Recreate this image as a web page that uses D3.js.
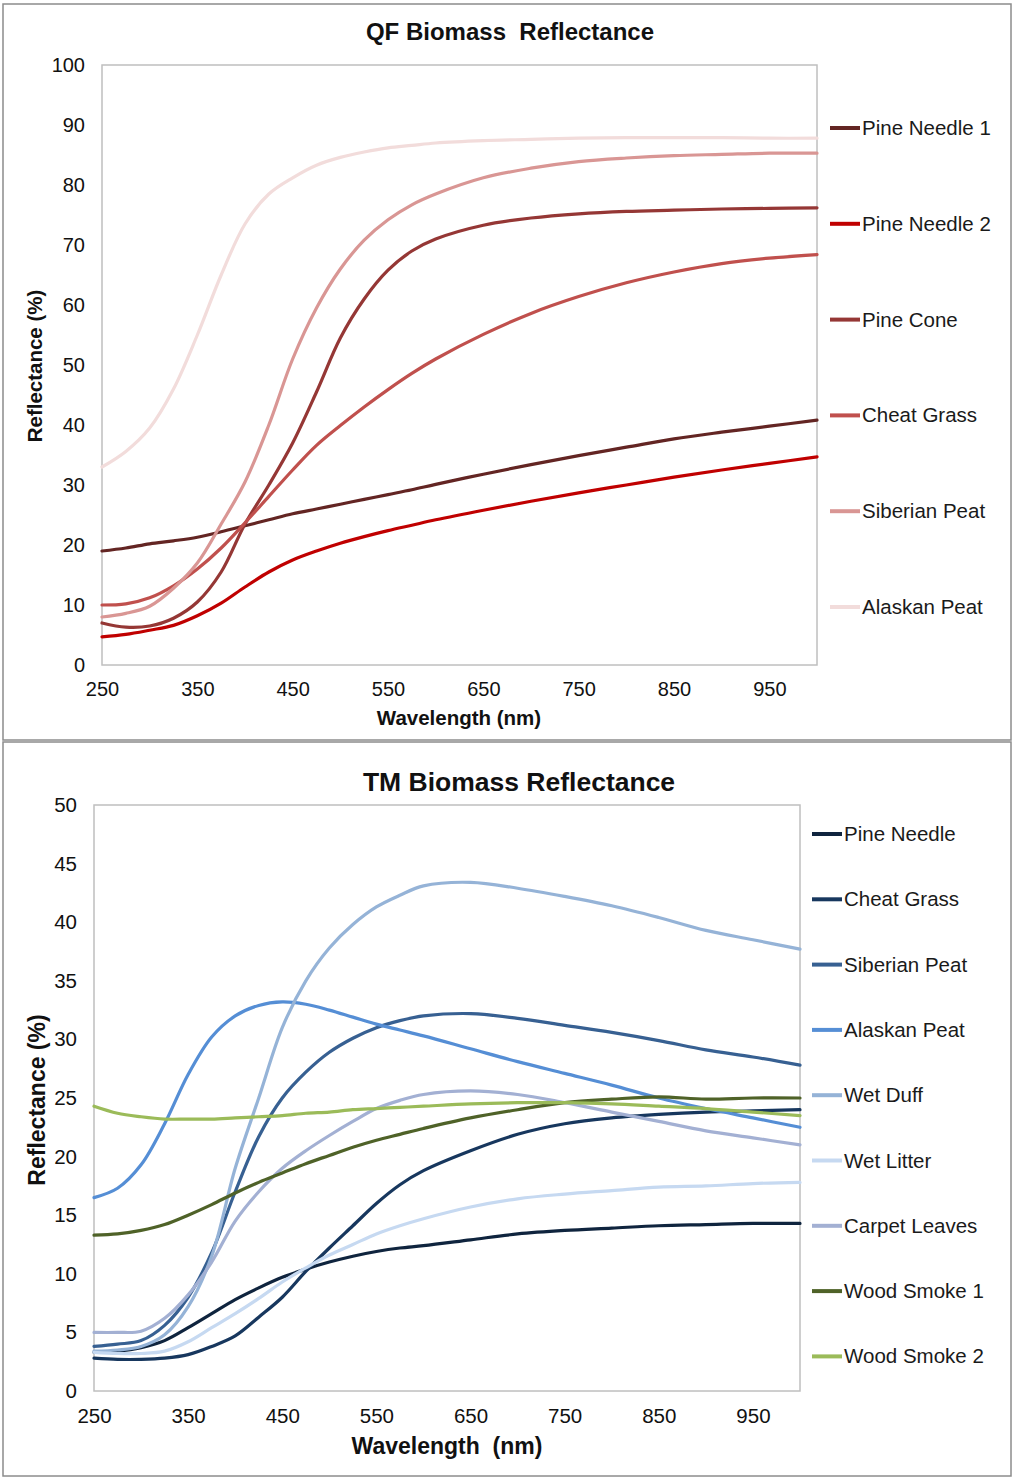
<!DOCTYPE html>
<html>
<head>
<meta charset="utf-8">
<script src="https://cdn.jsdelivr.net/npm/d3@7"></script>
<style>
  html, body { margin: 0; padding: 0; background: #fff; }
  svg { display: block; font-family: "Liberation Sans", Arial, sans-serif; }
  svg text { white-space: pre; }
  .tick text { fill: #111; }
</style>
</head>
<body>
<svg id="chart" width="1013" height="1479"></svg>
<script>
// Wavelength samples shared by every spectrum (nm)
const wavelengths = [250, 275, 300, 325, 350, 375, 400, 425, 450, 475, 500, 525, 550, 575, 600, 650, 700, 750, 800, 850, 900, 950, 1000];

// QF biomass reflectance (%)
const qfPineNeedle1   = [19, 19.5, 20.2, 20.7, 21.3, 22.2, 23.2, 24.2, 25.2, 26, 26.8, 27.6, 28.4, 29.2, 30.1, 31.8, 33.4, 34.9, 36.3, 37.7, 38.8, 39.8, 40.8];
const qfPineNeedle2   = [4.7, 5.1, 5.8, 6.6, 8.2, 10.3, 13, 15.5, 17.5, 19, 20.3, 21.4, 22.4, 23.3, 24.2, 25.8, 27.3, 28.7, 30, 31.3, 32.5, 33.6, 34.7];
const qfPineCone      = [7, 6.3, 6.5, 7.8, 10.5, 15.5, 23.5, 30, 37, 45.5, 54.5, 61, 65.8, 69, 71, 73.3, 74.5, 75.2, 75.6, 75.8, 76, 76.1, 76.2];
const qfCheatGrass    = [10, 10.2, 11.2, 13.2, 16, 19.5, 23.7, 28.1, 32.5, 36.6, 39.9, 43, 45.9, 48.6, 51, 55.1, 58.6, 61.4, 63.7, 65.5, 66.9, 67.8, 68.4];
const qfSiberianPeat  = [8, 8.6, 9.8, 12.8, 17, 23.5, 30.5, 40, 51, 59.5, 66, 70.8, 74.2, 76.7, 78.5, 81.2, 82.8, 83.9, 84.5, 84.9, 85.1, 85.3, 85.3];
const qfAlaskanPeat   = [33, 35.6, 39.5, 46, 55, 65, 73.5, 78.5, 81.2, 83.3, 84.6, 85.5, 86.2, 86.6, 87, 87.4, 87.6, 87.8, 87.9, 87.9, 87.9, 87.8, 87.8];

// TM biomass reflectance (%)
const tmPineNeedle    = [3.3, 3.4, 3.7, 4.3, 5.4, 6.6, 7.8, 8.8, 9.7, 10.4, 11, 11.5, 11.9, 12.2, 12.4, 12.9, 13.4, 13.7, 13.9, 14.1, 14.2, 14.3, 14.3];
const tmCheatGrass    = [2.8, 2.7, 2.7, 2.8, 3.1, 3.8, 4.7, 6.3, 8, 10.2, 12.2, 14.1, 16, 17.6, 18.8, 20.5, 21.9, 22.8, 23.3, 23.6, 23.8, 23.9, 24];
const tmSiberianPeat  = [3.8, 4, 4.3, 5.6, 8, 11.8, 17, 21.7, 25, 27.2, 28.9, 30.1, 31, 31.6, 32, 32.2, 31.8, 31.2, 30.6, 29.9, 29.1, 28.5, 27.8];
const tmAlaskanPeat   = [16.5, 17.3, 19.3, 22.8, 27, 30.2, 32, 32.9, 33.2, 33, 32.5, 31.9, 31.3, 30.8, 30.3, 29.2, 28.1, 27.1, 26.1, 25, 24.1, 23.3, 22.5];
const tmWetDuff       = [3.4, 3.5, 3.8, 4.8, 7.2, 11.5, 19, 25, 31, 35, 37.8, 39.8, 41.3, 42.3, 43.1, 43.4, 42.9, 42.2, 41.4, 40.4, 39.3, 38.5, 37.7];
const tmWetLitter     = [3.3, 3.2, 3.2, 3.4, 4.2, 5.4, 6.6, 7.9, 9.3, 10.5, 11.6, 12.5, 13.4, 14.1, 14.7, 15.7, 16.4, 16.8, 17.1, 17.4, 17.5, 17.7, 17.8];
const tmCarpetLeaves  = [5, 5, 5.1, 6.2, 8.2, 11, 14.5, 17, 19, 20.5, 21.8, 23, 24.1, 24.8, 25.3, 25.6, 25.3, 24.6, 23.8, 23, 22.2, 21.6, 21];
const tmWoodSmoke1    = [13.3, 13.4, 13.7, 14.2, 15, 15.9, 16.9, 17.8, 18.6, 19.4, 20.1, 20.8, 21.4, 21.9, 22.4, 23.3, 24, 24.6, 24.9, 25.1, 24.9, 25, 25];
const tmWoodSmoke2    = [24.3, 23.7, 23.4, 23.2, 23.2, 23.2, 23.3, 23.4, 23.5, 23.7, 23.8, 24, 24.1, 24.2, 24.3, 24.5, 24.6, 24.6, 24.5, 24.3, 24.1, 23.8, 23.5];

// Axis tick values
const xTicks = [250, 350, 450, 550, 650, 750, 850, 950];
const qfYTicks = [0, 10, 20, 30, 40, 50, 60, 70, 80, 90, 100];
const tmYTicks = [0, 5, 10, 15, 20, 25, 30, 35, 40, 45, 50];

const qfSeries = [
  { name: "Pine Needle 1", values: qfPineNeedle1, color: "#632523" },
  { name: "Pine Needle 2", values: qfPineNeedle2, color: "#c00000" },
  { name: "Pine Cone",     values: qfPineCone,    color: "#953735" },
  { name: "Cheat Grass",   values: qfCheatGrass,  color: "#c0504d" },
  { name: "Siberian Peat", values: qfSiberianPeat, color: "#d99694" },
  { name: "Alaskan Peat",  values: qfAlaskanPeat, color: "#f2dcdb" }
];

const tmSeries = [
  { name: "Pine Needle",   values: tmPineNeedle,   color: "#0f243e" },
  { name: "Cheat Grass",   values: tmCheatGrass,   color: "#17375e" },
  { name: "Siberian Peat", values: tmSiberianPeat, color: "#376092" },
  { name: "Alaskan Peat",  values: tmAlaskanPeat,  color: "#558ed5" },
  { name: "Wet Duff",      values: tmWetDuff,      color: "#95b3d7" },
  { name: "Wet Litter",    values: tmWetLitter,    color: "#c6d9f1" },
  { name: "Carpet Leaves", values: tmCarpetLeaves, color: "#a3b0d3" },
  { name: "Wood Smoke 1",  values: tmWoodSmoke1,   color: "#4f6228" },
  { name: "Wood Smoke 2",  values: tmWoodSmoke2,   color: "#9bbb59" }
];

const svg = d3.select("#chart");

// Panel frames
svg.append("rect").attr("x", 3).attr("y", 4).attr("width", 1008).attr("height", 736)
  .attr("fill", "none").attr("stroke", "#8c8c8c").attr("stroke-width", 1.5);
svg.append("rect").attr("x", 3).attr("y", 742).attr("width", 1008).attr("height", 734)
  .attr("fill", "none").attr("stroke", "#8c8c8c").attr("stroke-width", 1.5);

function drawPanel(cfg) {
  const g = svg.append("g");
  const x = d3.scaleLinear().domain([250, 1000]).range([cfg.left, cfg.right]);
  const y = d3.scaleLinear().domain([0, cfg.yMax]).range([cfg.bottom, cfg.top]);

  // plot area border
  g.append("rect")
    .attr("x", cfg.left).attr("y", cfg.top)
    .attr("width", cfg.right - cfg.left).attr("height", cfg.bottom - cfg.top)
    .attr("fill", "none").attr("stroke", "#bfbfbf").attr("stroke-width", 1.5);

  // axes (labels only)
  const xAxis = g.append("g").attr("transform", `translate(0,${cfg.bottom})`)
    .call(d3.axisBottom(x).tickValues(xTicks).tickSize(0).tickPadding(cfg.xPad).tickFormat(d3.format("d")));
  xAxis.select(".domain").remove();
  xAxis.selectAll("text").attr("font-size", cfg.tickSize).attr("font-family", "Liberation Sans, Arial, sans-serif");

  const yAxis = g.append("g").attr("transform", `translate(${cfg.left},0)`)
    .call(d3.axisLeft(y).tickValues(cfg.yTicks).tickSize(0).tickPadding(cfg.yPad).tickFormat(d3.format("d")));
  yAxis.select(".domain").remove();
  yAxis.selectAll("text").attr("font-size", cfg.tickSize).attr("font-family", "Liberation Sans, Arial, sans-serif");

  // spectra
  const line = d3.line()
    .x((d, i) => x(wavelengths[i]))
    .y(d => y(d))
    .curve(d3.curveCatmullRom.alpha(0.5));

  g.append("g").selectAll("path")
    .data(cfg.series)
    .join("path")
    .attr("d", d => line(d.values))
    .attr("fill", "none")
    .attr("stroke", d => d.color)
    .attr("stroke-width", 3.2)
    .attr("stroke-linejoin", "round")
    .attr("stroke-linecap", "round");

  // title
  g.append("text").attr("x", cfg.titleX).attr("y", cfg.titleY)
    .attr("text-anchor", "middle").attr("font-weight", "bold")
    .attr("font-size", cfg.titleSize).attr("fill", "#111").text(cfg.title);

  // axis titles
  g.append("text").attr("x", cfg.xTitleX).attr("y", cfg.xTitleY)
    .attr("text-anchor", "middle").attr("font-weight", "bold")
    .attr("font-size", cfg.axisTitleSize).attr("fill", "#111").text(cfg.xTitle);
  g.append("text")
    .attr("transform", `translate(${cfg.yTitleX},${cfg.yTitleY}) rotate(-90)`)
    .attr("text-anchor", "middle").attr("font-weight", "bold")
    .attr("font-size", cfg.axisTitleSize).attr("fill", "#111").text("Reflectance (%)");

  // legend
  const leg = g.append("g").selectAll("g")
    .data(cfg.series)
    .join("g")
    .attr("transform", (d, i) => `translate(${cfg.legendX},${cfg.legendY0 + i * cfg.legendStep})`);
  leg.append("line").attr("x1", 0).attr("x2", 30).attr("y1", 0).attr("y2", 0)
    .attr("stroke", d => d.color).attr("stroke-width", 4);
  leg.append("text").attr("x", 32).attr("y", 7)
    .attr("font-size", cfg.legendSize).attr("fill", "#1a1a1a").text(d => d.name);
}

drawPanel({
  series: qfSeries, yMax: 100, yTicks: qfYTicks,
  left: 102, right: 817, top: 65, bottom: 665,
  tickSize: 20, xPad: 17, yPad: 17,
  title: "QF Biomass  Reflectance", titleX: 510, titleY: 40, titleSize: 24,
  axisTitleSize: 20.5, xTitle: "Wavelength (nm)", xTitleX: 459, xTitleY: 725, yTitleX: 42, yTitleY: 366,
  legendX: 830, legendY0: 128, legendStep: 95.8, legendSize: 20.5
});

drawPanel({
  series: tmSeries, yMax: 50, yTicks: tmYTicks,
  left: 94, right: 800, top: 805, bottom: 1391,
  tickSize: 20.5, xPad: 17, yPad: 17,
  title: "TM Biomass Reflectance", titleX: 519, titleY: 791, titleSize: 26.5,
  axisTitleSize: 23, xTitle: "Wavelength  (nm)", xTitleX: 447, xTitleY: 1454, yTitleX: 45, yTitleY: 1100,
  legendX: 812, legendY0: 834, legendStep: 65.3, legendSize: 20.5
});
</script>
</body>
</html>
